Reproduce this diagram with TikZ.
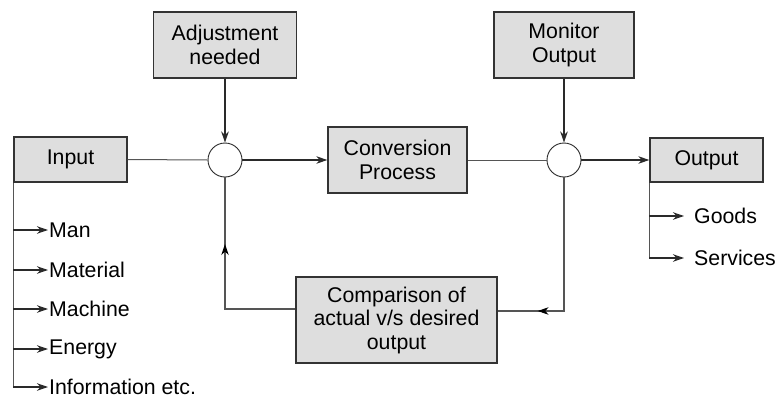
\documentclass[tikz,border=0pt]{standalone}
\usepackage{fontspec}
\setmainfont{Liberation Sans}
\usetikzlibrary{arrows.meta,decorations.markings}
\definecolor{boxfill}{HTML}{DEDEDE}
\definecolor{boxline}{HTML}{333333}
\definecolor{linecol}{HTML}{2A2A2A}
\begin{document}
\begin{tikzpicture}[x=1pt,y=-1pt,
  box/.style={draw=boxline,fill=boxfill,line width=1.3pt,minimum width=#1,inner sep=0pt,align=center,
     font=\fontsize{21.3}{23.5}\selectfont},
  junction/.style={draw=linecol,fill=white,circle,minimum size=34pt,inner sep=0pt,line width=0.9pt},
  thin/.style={draw=linecol!80,line width=1pt},
  arr/.style={draw=linecol,line width=1.4pt,-{Stealth[length=11pt,width=7.5pt,inset=3.5pt]}},
  lbl/.style={anchor=west,inner sep=0pt,font=\fontsize{21.3}{23.5}\selectfont},
  midarrow/.style={postaction={decorate},decoration={markings,mark=at position #1 with {\arrow[draw=black,fill=black,line width=1pt]{Stealth[length=11pt,width=7.5pt,inset=3.5pt]}}}}
]
\useasboundingbox (0,0) rectangle (778,399);
\node[box=113pt,minimum height=45pt] (input) at (70.5,159.5) {Input};
\node[box=143pt,minimum height=66pt] (adj) at (225,45) {Adjustment\\needed};
\node[box=139pt,minimum height=66pt] (conv) at (397.5,160) {Conversion\\Process};
\node[box=140pt,minimum height=66pt] (mon) at (564,45) {Monitor\\Output};
\node[box=113pt,minimum height=44pt] (output) at (706.5,160) {Output};
\node[box=201pt,minimum height=86pt] (comp) at (396.5,320) {Comparison of\\actual v/s desired\\output};
\node[junction] (c1) at (225,160) {};
\node[junction] (c2) at (564,160) {};
% main flow
\draw[thin] (input.east) -- (c1.west);
\draw[arr] (c1.east) -- (conv.west);
\draw[thin] (conv.east) -- (c2.west);
\draw[arr] (c2.east) -- (output.west);
\draw[arr] (adj.south) -- (c1.north);
\draw[arr] (mon.south) -- (c2.north);
% feedback
\coordinate (fbl) at (225,309);
\coordinate (fbr) at (564,311);
\draw[thin,line width=1.2pt,midarrow=0.67] (comp.west |- fbl) -- (fbl) -- (c1.south);
\draw[thin,line width=1.2pt,midarrow=0.80] (c2.south) -- (fbr) -- (comp.east |- fbr);
% input items
\node[lbl] (man) at (49,230) {Man};
\node[lbl] (mat) at (49,270) {Material};
\node[lbl] (mach) at (49,309) {Machine};
\node[lbl] (ene) at (49,349) {Energy};
\node[lbl] (info) at (49,387) {Information etc.};
\draw[thin,line width=1.2pt] (input.south west) -- (input.south west |- info.west);
\foreach \n in {man,mat,mach,ene,info}{
  \draw[arr,line width=1.2pt] (input.south west |- \n.west) -- ([xshift=-1pt]\n.west);
}
% output items
\node[lbl] (goods) at (694,216) {Goods};
\node[lbl] (serv) at (694,258) {Services};
\draw[thin,line width=1.2pt] (output.south west) -- (output.south west |- serv.west);
\foreach \n in {goods,serv}{
  \draw[arr,line width=1.2pt] (output.south west |- \n.west) -- ([xshift=-10pt]\n.west);
}
\end{tikzpicture}
\end{document}
